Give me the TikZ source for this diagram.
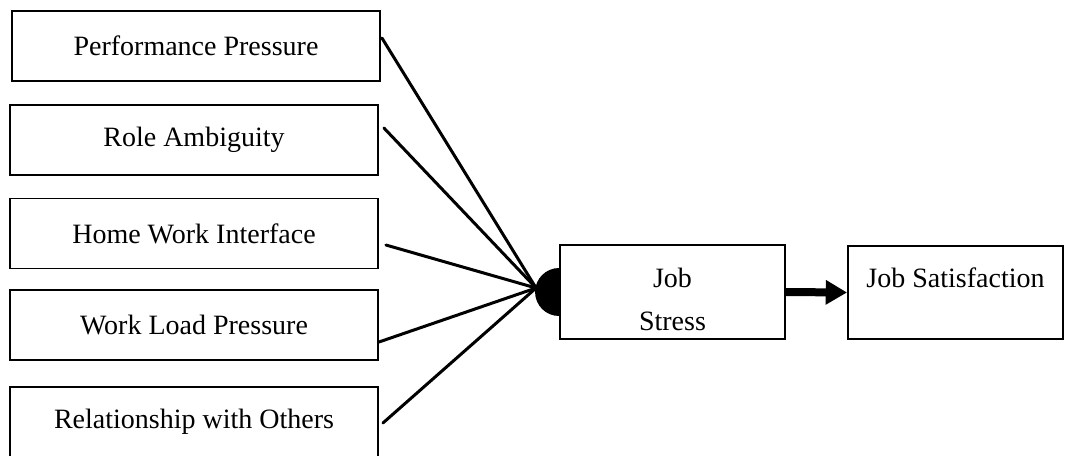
\documentclass[tikz,border=0pt]{standalone}
\usepackage{fontspec}
\setmainfont{Liberation Serif}
\usetikzlibrary{arrows.meta,calc}

\begin{document}
\begin{tikzpicture}[
      x=0.75pt, y=-0.75pt,
      font=\fontsize{21}{25}\selectfont,
      box/.style={draw=black, line width=1.4pt, minimum width=276pt,
                  minimum height=52.5pt, align=center, inner sep=0pt},
      link/.style={line width=2.25pt, line cap=round},
      arr/.style={-{Triangle[length=16pt,width=17.5pt]}, line width=6pt}
    ]
    \useasboundingbox (0,0) rectangle (1065,455);
    % stressors
    \node[box] (pp) at (196,46)    {Performance Pressure};
    \node[box] (ra) at (194,140)   {Role Ambiguity};
    \node[box] (hw) at (194,233.5) {Home Work Interface};
    \node[box] (wl) at (194,325)   {Work Load Pressure};
    \node[box] (rw) at (194,422)   {Relationship with Others};

    % outcome
    \node[box, minimum width=168.75pt, minimum height=70.5pt, text height=58pt]
      (js) at (672.5,292) {Job\\[7pt]Stress};
    \node[box, minimum width=161.25pt, minimum height=69.75pt, text depth=22pt]
      (sat) at (955.5,292.5) {Job Satisfaction};

    % joint
    \fill ([yshift=18pt]js.west) arc[start angle=90, end angle=270, radius=18pt] -- cycle;
    \coordinate (hub) at ([shift={(-23,-4)}]js.west);

    \draw[link] ([shift={(1,-8)}]pp.east) -- (hub);
    \draw[link] ([shift={(5,-12)}]ra.east) -- (hub);
    \draw[link] ([shift={(7,11.5)}]hw.east) -- (hub);
    \draw[link] ([shift={(0,17)}]wl.east) -- (hub);
    \draw[link] ([shift={(4,1)}]rw.east) -- (hub);

    \draw[arr] (js.east) -- (sat.west);
  \end{tikzpicture}
\end{document}
